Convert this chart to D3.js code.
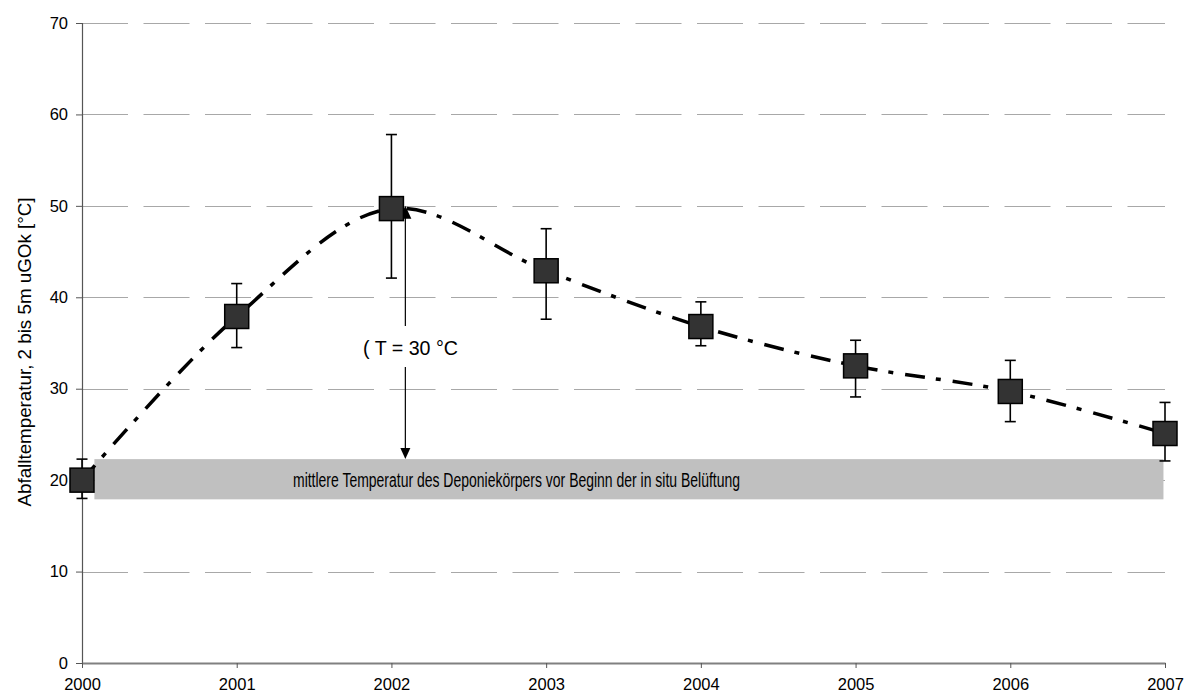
<!DOCTYPE html>
<html>
<head>
<meta charset="utf-8">
<script src="https://cdn.jsdelivr.net/npm/d3@7"></script>
<style>
  body { margin: 0; background: #fff; }
  text { font-family: "Liberation Sans", Arial, sans-serif; fill: #000; }
</style>
</head>
<body>
<div id="chart"></div>
<script>
// data
var years = [2000, 2001, 2002, 2003, 2004, 2005, 2006, 2007];
var meanTemp = [20.0, 37.9, 49.7, 42.9, 36.8, 32.5, 29.7, 25.1];
var errLow = [18.0, 34.5, 42.1, 37.6, 34.7, 29.1, 26.4, 22.1];
var errHigh = [22.3, 41.5, 57.8, 47.5, 39.5, 35.3, 33.1, 28.5];
var yTicks = [0, 10, 20, 30, 40, 50, 60, 70];

// band = mean temperature before aeration, arrow = delta T
var bandYears = [2000.08, 2006.99];
var bandTemp = [17.9, 22.3];
var bandLabel = "mittlere Temperatur des Deponiekörpers vor Beginn der in situ Belüftung";
var arrowYear = 2002.09;
var arrowTemp = [22.3, 50.0];
var deltaLabel = "( T = 30 °C";
var yLabel = "Abfalltemperatur, 2 bis 5m uGOk [°C]";

var width = 1188, height = 694;

var x = d3.scaleLinear().domain([2000, 2007]).range([82, 1165]);
var y = d3.scaleLinear().domain([0, 70]).range([663, 23]);

var svg = d3.select("#chart").append("svg")
    .attr("width", width)
    .attr("height", height);

// grid
svg.append("g")
    .selectAll("line")
    .data(yTicks.filter(function (d) { return d > 0; }))
    .enter()
    .append("line")
    .attr("x1", x(2000))
    .attr("x2", x(2007))
    .attr("y1", function (d) { return Math.round(y(d)) + 0.5; })
    .attr("y2", function (d) { return Math.round(y(d)) + 0.5; })
    .attr("stroke", "#a8a8a8")
    .attr("stroke-width", 1.2)
    .attr("stroke-dasharray", "46,15.5");

// y axis
var yAxis = svg.append("g")
    .attr("transform", "translate(" + x(2000) + ",0)")
    .call(d3.axisLeft(y).tickValues(yTicks).tickSize(6).tickPadding(8));
yAxis.select(".domain").attr("stroke", "#555").attr("stroke-width", 1.2);
yAxis.selectAll(".tick line").attr("stroke", "#555");
yAxis.selectAll("text").style("font-size", "16.5px").attr("font-family", null);

// x axis
var xAxis = svg.append("g")
    .attr("transform", "translate(0," + y(0) + ")")
    .call(d3.axisBottom(x).tickValues(years).tickFormat(d3.format("d")).tickSize(5).tickSizeOuter(0).tickPadding(10));
xAxis.select(".domain").attr("stroke", "#808080").attr("stroke-width", 2);
xAxis.selectAll(".tick line").attr("stroke", "#555");
xAxis.selectAll("text").style("font-size", "16.5px").attr("font-family", null);

// y label
svg.append("text")
    .attr("transform", "translate(31," + 352 + ") rotate(-90)")
    .attr("text-anchor", "middle")
    .attr("textLength", 309)
    .attr("lengthAdjust", "spacingAndGlyphs")
    .style("font-size", "18px")
    .text(yLabel);

// grey band
svg.append("rect")
    .attr("x", x(bandYears[0]))
    .attr("y", y(bandTemp[1]))
    .attr("width", x(bandYears[1]) - x(bandYears[0]))
    .attr("height", y(bandTemp[0]) - y(bandTemp[1]))
    .attr("fill", "#c0c0c0");

svg.append("text")
    .attr("x", 293)
    .attr("y", 487)
    .attr("textLength", 447)
    .attr("lengthAdjust", "spacingAndGlyphs")
    .style("font-size", "19.5px")
    .text(bandLabel);

// smooth dash-dot line
var line = d3.line()
    .x(function (d, i) { return x(years[i]); })
    .y(function (d) { return y(d); })
    .curve(d3.curveCatmullRom.alpha(0.5));

svg.append("path")
    .datum(meanTemp)
    .attr("d", line)
    .attr("fill", "none")
    .attr("stroke", "#000")
    .attr("stroke-width", 3.5)
    .attr("stroke-dasharray", "20,11,5,12");

// arrow delta T
var ax = x(arrowYear);
var yTop = y(arrowTemp[1]), yBot = y(arrowTemp[0]);
svg.append("line")
    .attr("x1", ax).attr("x2", ax)
    .attr("y1", yTop + 10).attr("y2", 326)
    .attr("stroke", "#000").attr("stroke-width", 1.2);
svg.append("line")
    .attr("x1", ax).attr("x2", ax)
    .attr("y1", 367).attr("y2", yBot - 9)
    .attr("stroke", "#000").attr("stroke-width", 1.2);
svg.append("path")
    .attr("d", "M" + ax + "," + yTop + "L" + (ax - 6) + "," + (yTop + 13) + "L" + (ax + 6) + "," + (yTop + 13) + "Z")
    .attr("fill", "#000");
svg.append("path")
    .attr("d", "M" + ax + "," + yBot + "L" + (ax - 5) + "," + (yBot - 11) + "L" + (ax + 5) + "," + (yBot - 11) + "Z")
    .attr("fill", "#000");

svg.append("text")
    .attr("x", 363)
    .attr("y", 355)
    .attr("textLength", 95)
    .attr("lengthAdjust", "spacingAndGlyphs")
    .style("font-size", "19.5px")
    .text(deltaLabel);

// error bars
var err = svg.append("g").attr("stroke", "#000").attr("stroke-width", 1.6);
years.forEach(function (yr, i) {
    var cx = x(yr);
    err.append("line").attr("x1", cx).attr("x2", cx).attr("y1", y(errHigh[i])).attr("y2", y(errLow[i]));
    err.append("line").attr("x1", cx - 5.5).attr("x2", cx + 5.5).attr("y1", y(errHigh[i])).attr("y2", y(errHigh[i]));
    err.append("line").attr("x1", cx - 5.5).attr("x2", cx + 5.5).attr("y1", y(errLow[i])).attr("y2", y(errLow[i]));
});

// square markers
var s = 24;
svg.append("g")
    .selectAll("rect")
    .data(meanTemp)
    .enter()
    .append("rect")
    .attr("x", function (d, i) { return x(years[i]) - s / 2; })
    .attr("y", function (d) { return y(d) - s / 2; })
    .attr("width", s)
    .attr("height", s)
    .attr("fill", "#333333")
    .attr("stroke", "#000")
    .attr("stroke-width", 1.5);
</script>
</body>
</html>
